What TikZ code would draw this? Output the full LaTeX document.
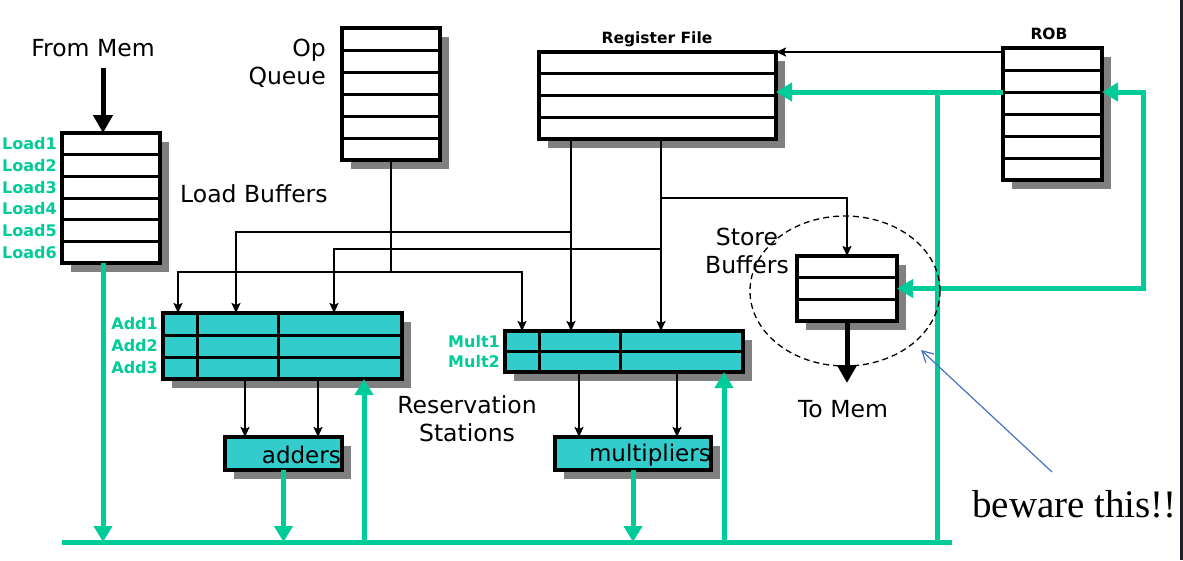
\documentclass[tikz,border=0pt]{standalone}
\usepackage{fontspec}
\setmainfont{DejaVu Sans}
\newfontfamily\serifnote{Liberation Serif}
\usetikzlibrary{shadows,arrows.meta,shapes.geometric,calc}
\definecolor{grn}{HTML}{00CC99}
\definecolor{rsfill}{HTML}{33CCCC}
\definecolor{note}{HTML}{4472C4}
\definecolor{edge}{HTML}{222228}
\tikzset{
  regbox/.style={draw, line width=3.2pt, fill=white, inner sep=0pt, outer sep=0pt,
    drop shadow={shadow xshift=9pt, shadow yshift=-9pt, fill=gray, opacity=1}},
  rsbox/.style={regbox, fill=rsfill},
  rowline/.style={line width=3pt},
  conn/.style={line width=2.4pt, -{Stealth[length=10pt,width=9pt,inset=2pt]}},
  bigarrow/.style={line width=5pt, -{Triangle[length=18pt,width=19pt]}},
  bus/.style={grn, line width=5pt},
  busarrow/.style={bus, -{Triangle[length=16pt,width=18pt]}},
  lbl/.style={font=\fontsize{23.5}{28}\selectfont, inner sep=0pt, align=center},
  glbl/.style={font=\bfseries\fontsize{16}{20}\selectfont, text=grn, inner sep=0pt, anchor=east},
}
\begin{document}
\begin{tikzpicture}[x=1pt,y=-1pt]
\useasboundingbox (0,0) rectangle (1183,560);
\fill[edge] (1180,0) rectangle (1183,560);

% ---------- boxes ----------
\node[regbox, minimum width=98pt, minimum height=130pt] (lb) at (111,198) {};
\foreach \i in {1,...,5}
  \draw[rowline] ($(lb.north west)!\i/6!(lb.south west)$) -- ($(lb.north east)!\i/6!(lb.south east)$);

\node[regbox, minimum width=98pt, minimum height=132pt] (oq) at (391,94) {};
\foreach \i in {1,...,5}
  \draw[rowline] ($(oq.north west)!\i/6!(oq.south west)$) -- ($(oq.north east)!\i/6!(oq.south east)$);

\node[regbox, minimum width=237pt, minimum height=87pt] (rf) at (657.5,95.5) {};
\foreach \i in {1,...,3}
  \draw[rowline] ($(rf.north west)!\i/4!(rf.south west)$) -- ($(rf.north east)!\i/4!(rf.south east)$);

\node[regbox, minimum width=99pt, minimum height=132pt] (rob) at (1052.5,114) {};
\foreach \i in {1,...,5}
  \draw[rowline] ($(rob.north west)!\i/6!(rob.south west)$) -- ($(rob.north east)!\i/6!(rob.south east)$);

\node[regbox, minimum width=100pt, minimum height=65pt] (sb) at (847,288.5) {};
\foreach \i in {1,...,2}
  \draw[rowline] ($(sb.north west)!\i/3!(sb.south west)$) -- ($(sb.north east)!\i/3!(sb.south east)$);

\node[rsbox, minimum width=239pt, minimum height=66pt] (ars) at (282.5,346) {};
\foreach \i in {1,...,2}
  \draw[rowline] ($(ars.north west)!\i/3!(ars.south west)$) -- ($(ars.north east)!\i/3!(ars.south east)$);
\draw[rowline] (197,313) -- (197,379);
\draw[rowline] (278,313) -- (278,379);

\node[rsbox, minimum width=238pt, minimum height=41pt] (mrs) at (624,351.5) {};
\draw[rowline] (mrs.west) -- (mrs.east);
\draw[rowline] (539,331) -- (539,372);
\draw[rowline] (620,331) -- (620,372);

\node[rsbox, minimum width=117pt, minimum height=33pt] (add) at (283.5,453.5) {};
\node[lbl, font=\fontsize{23}{28}\selectfont, anchor=east] at (341,455) {adders};
\node[rsbox, minimum width=156pt, minimum height=33pt] (mul) at (633,453.5) {};
\node[lbl, font=\fontsize{23}{28}\selectfont, anchor=east] at (711,455) {multipliers};

% ---------- labels ----------
\node[lbl] (fm) at (93,48) {From Mem};
\node[lbl, anchor=east, align=right] (opq) at (326,63) {Op\\Queue};
\node[lbl, anchor=west] (lbt) at (180,194) {Load Buffers};
\node[lbl] (sbt) at (747,251) {Store\\Buffers};
\node[lbl] (tm) at (843,409) {To Mem};
\node[lbl] (rst) at (467,419) {Reservation\\Stations};
\node[font=\bfseries\fontsize{15.5}{18}\selectfont, inner sep=0pt] (rft) at (657,39) {Register File};
\node[font=\bfseries\fontsize{15.5}{18}\selectfont, inner sep=0pt] (robt) at (1049,34) {ROB};
\foreach \n [count=\i] in {1,...,6}
  \node[glbl] at (57,{133+(\i-0.5)*130/6}) {Load\n};
\foreach \n [count=\i] in {1,2,3}
  \node[glbl] at (158,{313+(\i-0.5)*22}) {Add\n};
\foreach \n [count=\i] in {1,2}
  \node[glbl] at (500,{331+(\i-0.5)*20.5}) {Mult\n};

% ---------- thick black arrows ----------
\coordinate (fmtop) at (103,68);
\draw[bigarrow] (fmtop) -- (fmtop |- lb.north);
\draw[bigarrow] (sb.south) -- (847,383);

% ---------- black connectors ----------
\coordinate (a1) at (178,313);
\coordinate (a2) at (236,313);
\coordinate (a3) at (334,313);
\coordinate (m1) at (522,331);
\coordinate (r1) at (571,139);
\coordinate (r2) at (661,139);
\draw[conn] (oq.south) -- ++(0,112) -| (a1);
\draw[conn] (oq.south) ++(0,112) -| (m1);
\draw[conn] (r1) -- (r1 |- mrs.north);
\draw[conn] (r1 |- 0,232) -| (a2);
\draw[conn] (r2) -- (r2 |- mrs.north);
\draw[conn] (r2 |- 0,249) -| (a3);
\draw[conn] (r2 |- 0,198) -| (sb.north);
\draw[conn] (rob.west |- 0,52) -- (rf.east |- 0,52);
\foreach \x in {245,318}
  \draw[conn] (\x,379) -- (\x,437);
\foreach \x in {579,677}
  \draw[conn] (\x,372) -- (\x,437);

% ---------- green buses ----------
\coordinate (busL) at (62,542);
\coordinate (busR) at (952,542);
\draw[bus] (busL) -- (busR);
\draw[busarrow] (103,263) -- (103,542);
\draw[busarrow] (add.south) -- (add.south |- busL);
\draw[busarrow] (mul.south) -- (mul.south |- busL);
\draw[busarrow] (364,542) -- (364,379);
\draw[busarrow] (724,542) -- (724,372);
\draw[bus] (937,542) -- (937,92);
\draw[busarrow] (rob.west |- 0,92) -- (rf.east |- 0,92);
\draw[bus, {Triangle[length=16pt,width=18pt]}-{Triangle[length=16pt,width=18pt]}]
  (sb.east) -- (1143,288.5) -- (1143,92) -- (rob.east |- 0,92);

% ---------- note ----------
\node[ellipse, draw, dash pattern=on 6pt off 4pt, line width=1.3pt, minimum width=190pt, minimum height=150pt] (circ) at (845,291) {};
\node[font=\serifnote\fontsize{39}{42}\selectfont, inner sep=0pt, anchor=base west] (bw) at (972,517) {beware this!!};
\coordinate (ptr) at (1052,472);
\draw[note, line width=1.2pt, -{Straight Barb[length=11pt,width=12pt]}] (ptr) -- (921,350);
\end{tikzpicture}
\end{document}
